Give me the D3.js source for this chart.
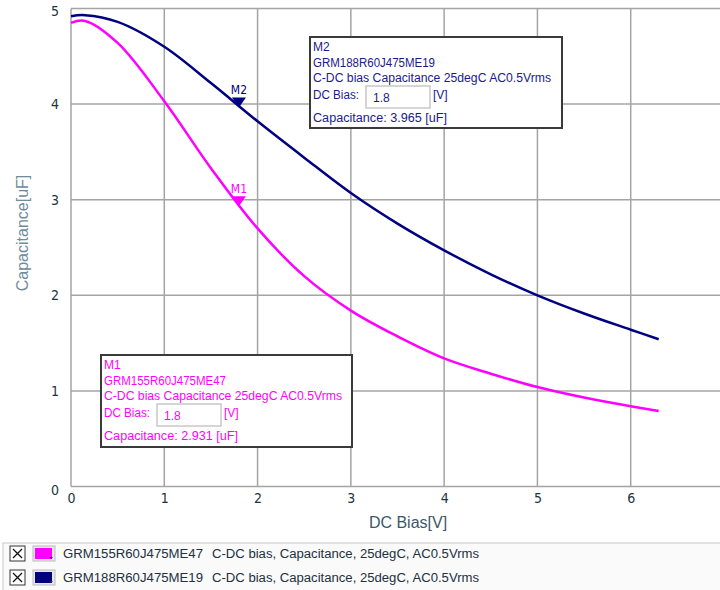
<!DOCTYPE html>
<html>
<head>
<meta charset="utf-8">
<script src="https://cdn.jsdelivr.net/npm/d3@7"></script>
<style>
  body { margin: 0; background: #fff; }
  svg { display: block; }
</style>
</head>
<body>
<div id="chart"></div>
<script>
let w = 720;
let h = 590;

// DC bias values (V) and capacitance (uF)
let biasV = [0, 0.15, 0.5, 1, 1.5, 2, 2.5, 3, 3.5, 4, 4.5, 5, 5.5, 6, 6.3];
let capGRM155 = [4.85, 4.87, 4.64, 4.03, 3.33, 2.70, 2.20, 1.84, 1.57, 1.34, 1.18, 1.04, 0.93, 0.84, 0.79];
let capGRM188 = [4.92, 4.93, 4.86, 4.60, 4.22, 3.82, 3.44, 3.07, 2.75, 2.47, 2.22, 2.00, 1.81, 1.64, 1.54];

let xTicks = [0, 1, 2, 3, 4, 5, 6];
let yTicks = [0, 1, 2, 3, 4, 5];

let seriesNames = ["GRM155R60J475ME47", "GRM188R60J475ME19"];
let seriesColors = ["#ff00ff", "#000080"];
let conditionText = "C-DC bias, Capacitance, 25degC, AC0.5Vrms";
let boxCondition = "C-DC bias Capacitance 25degC AC0.5Vrms";

let markerNames = ["M1", "M2"];
let markerBias = [1.8, 1.8];
let markerCap = [2.931, 3.965];

let narrow = "'Liberation Sans Narrow', 'DejaVu Sans Condensed', 'Arial Narrow', sans-serif";
let uiFont = "'Liberation Sans', Arial, sans-serif";

let svg = d3.select("#chart").append("svg")
  .attr("width", w)
  .attr("height", h);

let xScale = d3.scaleLinear().domain([0, 7]).range([71, 724]);
let yScale = d3.scaleLinear().domain([0, 5]).range([486.5, 8.5]);

// grid
let grid = svg.append("g").attr("class", "grid");
grid.selectAll(".vline").data(xTicks).enter().append("line")
  .attr("x1", d => xScale(d)).attr("x2", d => xScale(d))
  .attr("y1", yScale(5)).attr("y2", yScale(0))
  .attr("stroke", "#a4a4a4").attr("stroke-width", 1.5);
grid.selectAll(".hline").data(yTicks).enter().append("line")
  .attr("x1", xScale(0)).attr("x2", w)
  .attr("y1", d => yScale(d)).attr("y2", d => yScale(d))
  .attr("stroke", "#a4a4a4").attr("stroke-width", 1.5);

// axes (labels only, lines come from grid)
let xAxis = d3.axisBottom(xScale).tickValues(xTicks).tickFormat(d3.format("d")).tickSize(0).tickPadding(7);
let xAxisGroup = svg.append("g")
  .attr("transform", "translate(0," + yScale(0) + ")")
  .call(xAxis);
xAxisGroup.select(".domain").remove();
xAxisGroup.selectAll("text")
  .attr("fill", "#1c3444")
  .style("font-family", narrow)
  .style("font-size", "14px");

let yAxis = d3.axisLeft(yScale).tickValues(yTicks).tickFormat(d3.format("d")).tickSize(0).tickPadding(12);
let yAxisGroup = svg.append("g")
  .attr("transform", "translate(" + xScale(0) + ",0)")
  .call(yAxis);
yAxisGroup.select(".domain").remove();
yAxisGroup.selectAll("text")
  .attr("fill", "#1c3444")
  .style("font-family", narrow)
  .style("font-size", "14px");
yAxisGroup.selectAll(".tick").filter(d => d === 5).select("text").attr("dy", "0.5em");
yAxisGroup.selectAll(".tick").filter(d => d === 0).select("text").attr("dy", "0.55em");

// axis titles
svg.append("text")
  .attr("x", 408).attr("y", 528)
  .attr("text-anchor", "middle")
  .attr("fill", "#3c5868")
  .style("font-family", uiFont)
  .style("font-size", "16px")
  .text("DC Bias[V]");

svg.append("text")
  .attr("transform", "translate(28,233) rotate(-90)")
  .attr("text-anchor", "middle")
  .attr("fill", "#6f8c98")
  .style("font-family", uiFont)
  .style("font-size", "16px")
  .text("Capacitance[uF]");

// curves
let line = d3.line()
  .x(d => xScale(d[0]))
  .y(d => yScale(d[1]))
  .curve(d3.curveCatmullRom.alpha(0.5));

let series = [capGRM155, capGRM188];
series.forEach(function(vals, i){
  let pts = biasV.map((v, j) => [v, vals[j]]);
  svg.append("path")
    .datum(pts)
    .attr("d", line)
    .attr("fill", "none")
    .attr("stroke", seriesColors[i])
    .attr("stroke-width", 2.5);
});

// markers
markerNames.forEach(function(name, i){
  let mx = xScale(markerBias[i]);
  let my = yScale(markerCap[i]);
  svg.append("path")
    .attr("d", "M" + (mx - 7) + "," + (my - 10) + "L" + (mx + 7) + "," + (my - 10) + "L" + mx + "," + my + "Z")
    .attr("fill", seriesColors[i]);
  svg.append("text")
    .attr("x", mx).attr("y", my - 13)
    .attr("text-anchor", "middle")
    .attr("fill", seriesColors[i])
    .style("font-family", narrow)
    .style("font-size", "12px")
    .text(name);
});

// marker info boxes
let boxes = [
  {x: 101, y: 355, w: 251, h: 92},
  {x: 310, y: 37, w: 252, h: 91}
];
let textColors = ["#ff00ff", "#1a1a8c"];
let boxCapText = ["2.931", "3.965"];
boxes.forEach(function(b, i){
  let g = svg.append("g").attr("transform", "translate(" + b.x + "," + b.y + ")");
  g.append("rect")
    .attr("width", b.w).attr("height", b.h)
    .attr("fill", "#fff")
    .attr("stroke", "#3a3a3a").attr("stroke-width", 2);
  let tc = textColors[i];
  function boxText(x, y, t, len){
    let el = g.append("text")
      .attr("x", x).attr("y", y)
      .attr("fill", tc)
      .style("font-family", uiFont)
      .style("font-size", "12px")
      .text(t);
    if (len) el.attr("textLength", len).attr("lengthAdjust", "spacingAndGlyphs");
  }
  boxText(3, 14, markerNames[i]);
  boxText(3, 30, seriesNames[i], 122);
  boxText(3, 45, boxCondition, 238);
  boxText(3, 62, "DC Bias:", 46);
  g.append("rect")
    .attr("x", 56).attr("y", 49).attr("width", 64).attr("height", 22)
    .attr("fill", "#fff").attr("stroke", "#c8c8c8").attr("stroke-width", 1.5);
  boxText(63, 65, String(markerBias[i]));
  boxText(123, 62, "[V]");
  boxText(3, 85, "Capacitance:  " + boxCapText[i] + "  [uF]", 134);
});

// legend panel
let legend = svg.append("g").attr("transform", "translate(0,543)");
legend.append("rect")
  .attr("x", 3).attr("y", 0).attr("width", w).attr("height", 50)
  .attr("fill", "#fafafa").attr("stroke", "#c8c8c8");
seriesNames.forEach(function(name, i){
  let row = legend.append("g").attr("transform", "translate(0," + (2 + i * 24) + ")");
  row.append("rect")
    .attr("x", 10).attr("y", 1).attr("width", 15).attr("height", 15)
    .attr("fill", "#fff").attr("stroke", "#333");
  row.append("path")
    .attr("d", "M13,4L22,13M22,4L13,13")
    .attr("stroke", "#111").attr("stroke-width", 1.3);
  row.append("rect")
    .attr("x", 33).attr("y", 1).attr("width", 22).attr("height", 15)
    .attr("fill", "#e8e8e8").attr("stroke", "#bbb");
  row.append("rect")
    .attr("x", 35).attr("y", 3).attr("width", 17).attr("height", 11)
    .attr("fill", seriesColors[i]);
  row.append("path")
    .attr("d", "M49,12L53,12L51,14Z")
    .attr("fill", "#333");
  row.append("text")
    .attr("x", 63).attr("y", 13)
    .attr("fill", "#223040")
    .attr("textLength", 140).attr("lengthAdjust", "spacingAndGlyphs")
    .style("font-family", uiFont)
    .style("font-size", "12px")
    .text(name);
  row.append("text")
    .attr("x", 212).attr("y", 13)
    .attr("fill", "#223040")
    .attr("textLength", 267).attr("lengthAdjust", "spacingAndGlyphs")
    .style("font-family", uiFont)
    .style("font-size", "12px")
    .text(conditionText);
});
</script>
</body>
</html>
